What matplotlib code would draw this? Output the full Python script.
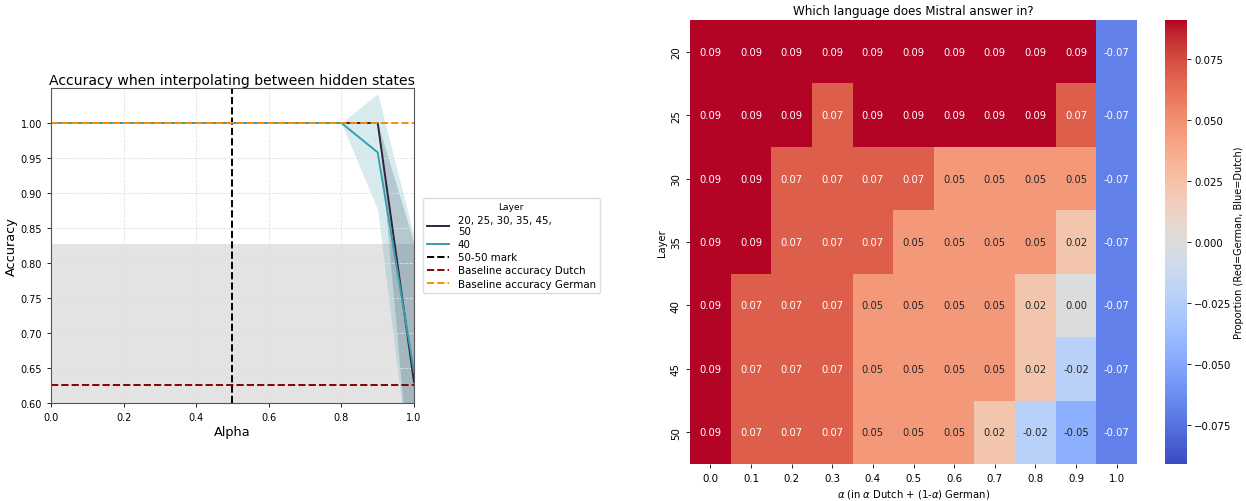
import matplotlib
matplotlib.use("Agg")
import matplotlib.pyplot as plt
import numpy as np
import seaborn as sns

# ---- left panel data (accuracy vs alpha) ----
alpha = [0.0, 0.1, 0.2, 0.3, 0.4, 0.5, 0.6, 0.7, 0.8, 0.9, 1.0]
acc_main = [1.0, 1.0, 1.0, 1.0, 1.0, 1.0, 1.0, 1.0, 1.0, 1.0, 0.63]
acc_main_lo = [1.0, 1.0, 1.0, 1.0, 1.0, 1.0, 1.0, 1.0, 1.0, 1.0, 0.43]
acc_main_hi = [1.0, 1.0, 1.0, 1.0, 1.0, 1.0, 1.0, 1.0, 1.0, 1.0, 0.828]
acc_40 = [1.0, 1.0, 1.0, 1.0, 1.0, 1.0, 1.0, 1.0, 1.0, 0.958, 0.645]
acc_40_lo = [1.0, 1.0, 1.0, 1.0, 1.0, 1.0, 1.0, 1.0, 1.0, 0.876, 0.46]
acc_40_hi = [1.0, 1.0, 1.0, 1.0, 1.0, 1.0, 1.0, 1.0, 1.0, 1.042, 0.838]
baseline_dutch = 0.625
baseline_dutch_band = (0.425, 0.827)
baseline_german = 1.0
label_main = "20, 25, 30, 35, 45,\n50"
label_40 = "40"

# ---- right panel data (heatmap) ----
layers = [20, 25, 30, 35, 40, 45, 50]
alphas = ["0.0", "0.1", "0.2", "0.3", "0.4", "0.5", "0.6", "0.7", "0.8", "0.9", "1.0"]
row20 = [0.0909, 0.0909, 0.0909, 0.0909, 0.0909, 0.0909, 0.0909, 0.0909, 0.0909, 0.0909, -0.0682]
row25 = [0.0909, 0.0909, 0.0909, 0.0682, 0.0909, 0.0909, 0.0909, 0.0909, 0.0909, 0.0682, -0.0682]
row30 = [0.0909, 0.0909, 0.0682, 0.0682, 0.0682, 0.0682, 0.0455, 0.0455, 0.0455, 0.0455, -0.0682]
row35 = [0.0909, 0.0909, 0.0682, 0.0682, 0.0682, 0.0455, 0.0455, 0.0455, 0.0455, 0.0227, -0.0682]
row40 = [0.0909, 0.0682, 0.0682, 0.0682, 0.0455, 0.0455, 0.0455, 0.0455, 0.0227, 0.0, -0.0682]
row45 = [0.0909, 0.0682, 0.0682, 0.0682, 0.0455, 0.0455, 0.0455, 0.0455, 0.0227, -0.0227, -0.0682]
row50 = [0.0909, 0.0682, 0.0682, 0.0682, 0.0455, 0.0455, 0.0455, 0.0227, -0.0227, -0.0455, -0.0682]

W, H = 1246, 502
fig = plt.figure(figsize=(W / 100, H / 100), dpi=100)

#########################################################################
# left: accuracy plot
ax = fig.add_axes([51 / W, 1 - 404 / H, 363 / W, 315 / H])
c_main = "#2f2340"
c_40 = "#3a9fae"
ax.axhspan(baseline_dutch_band[0], baseline_dutch_band[1], color="grey", alpha=0.22, lw=0)
ax.fill_between(alpha, acc_main_lo, acc_main_hi, color=c_main, alpha=0.2, lw=0)
ax.fill_between(alpha, acc_40_lo, acc_40_hi, color=c_40, alpha=0.2, lw=0)
ax.plot(alpha, acc_main, color=c_main, lw=1.4, label=label_main)
ax.plot(alpha, acc_40, color=c_40, lw=1.4, label=label_40)
ax.axvline(0.5, color="black", ls="--", lw=1.4, label="50-50 mark")
ax.axhline(baseline_dutch, color="darkred", ls="--", lw=1.4, label="Baseline accuracy Dutch")
ax.axhline(baseline_german, color="darkorange", ls="--", lw=1.4, label="Baseline accuracy German")
ax.set_xlim(0, 1)
ax.set_ylim(0.6, 1.05)
ax.set_yticks([0.6, 0.65, 0.7, 0.75, 0.8, 0.85, 0.9, 0.95, 1.0])
ax.set_yticklabels(["%.2f" % v for v in ax.get_yticks()])
ax.tick_params(labelsize=7, length=3, width=0.6)
ax.grid(True, ls="--", color="#e2e2e2", lw=0.6)
for s in ax.spines.values():
    s.set_color("#555555")
ax.set_title("Accuracy when interpolating between hidden states", fontsize=10.1, pad=3)
ax.set_xlabel("Alpha", fontsize=9.3, labelpad=2)
ax.set_ylabel("Accuracy", fontsize=9.3, labelpad=2)
leg = ax.legend(title="Layer", loc="center left", bbox_to_anchor=(1.01, 0.5),
                fontsize=7.4, title_fontsize=6.6, framealpha=1, edgecolor="#dddddd",
                handlelength=2.2, labelspacing=0.3)

#########################################################################
# right: heatmap
hax = fig.add_axes([690 / W, 1 - 465 / H, 447 / W, 444 / H])
cax = fig.add_axes([1165 / W, 1 - 465 / H, 22 / W, 444 / H])
data = np.array([row20, row25, row30, row35, row40, row45, row50])
sns.heatmap(data, ax=hax, cbar_ax=cax, cmap="coolwarm", vmin=-0.0909, vmax=0.0909, center=0,
            annot=True, fmt=".2f", annot_kws={"fontsize": 7.2},
            xticklabels=alphas, yticklabels=layers,
            cbar_kws={"label": "Proportion (Red=German, Blue=Dutch)"})
hax.tick_params(labelsize=7.4, length=3, width=0.6)
hax.set_yticklabels(layers, rotation=90, va="center")
hax.set_xticklabels(alphas, rotation=0)
hax.set_title("Which language does Mistral answer in?", fontsize=8.6, pad=4)
hax.set_xlabel(r"$\alpha$ (in $\alpha$ Dutch + (1-$\alpha$) German)", fontsize=7.2, labelpad=3)
hax.set_ylabel("Layer", fontsize=7.2, labelpad=3)
cax.tick_params(labelsize=7.3, length=3, width=0.6, pad=2)
cax.set_yticks([-0.075, -0.05, -0.025, 0.0, 0.025, 0.05, 0.075])
cax.set_ylabel("Proportion (Red=German, Blue=Dutch)", fontsize=7.0, labelpad=2)

plt.savefig("out.png", dpi=100)
